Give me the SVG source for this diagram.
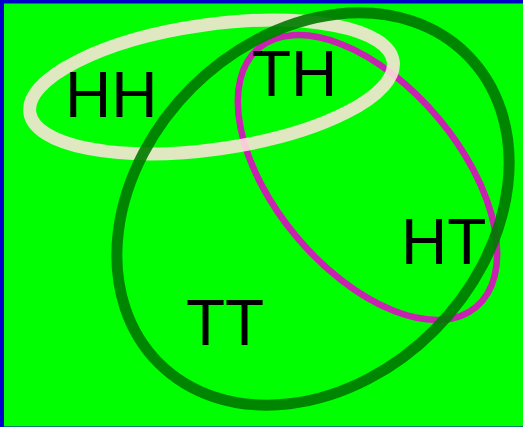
<svg xmlns="http://www.w3.org/2000/svg" width="523" height="427" viewBox="0 0 523 427">
  <style>
    .lbl { font-family: "Liberation Sans", Arial, sans-serif; font-size: 64px; fill: #000; }
    .set { fill: none; }
  </style>
  <rect id="frame" x="2" y="1.5" width="530" height="427" fill="#00ff00" stroke="#0000cc" stroke-width="4"/>
  <g id="sets">
    <ellipse id="set-magenta" class="set" cx="367.5" cy="177.5" rx="169" ry="92.5" transform="rotate(50 367.5 177.5)" stroke="#c822b0" stroke-width="6.5"/>
    <ellipse id="set-cream" class="set" cx="211.5" cy="87" rx="183.5" ry="62.3" transform="rotate(-8 211.5 87)" stroke="#ffe5dd" stroke-opacity="0.88" stroke-width="13"/>
    <ellipse id="set-darkgreen" class="set" cx="313" cy="209" rx="218" ry="171.5" transform="rotate(-45 313 209)" stroke="#007800" stroke-opacity="0.9" stroke-width="11"/>
  </g>
  <g id="node-HH"><text class="lbl" x="65" y="117">HH</text></g>
  <g id="node-TH"><text class="lbl" x="252" y="96">TH</text></g>
  <g id="node-HT"><text class="lbl" x="401" y="264">HT</text></g>
  <g id="node-TT"><text class="lbl" x="186" y="345">TT</text></g>
</svg>
